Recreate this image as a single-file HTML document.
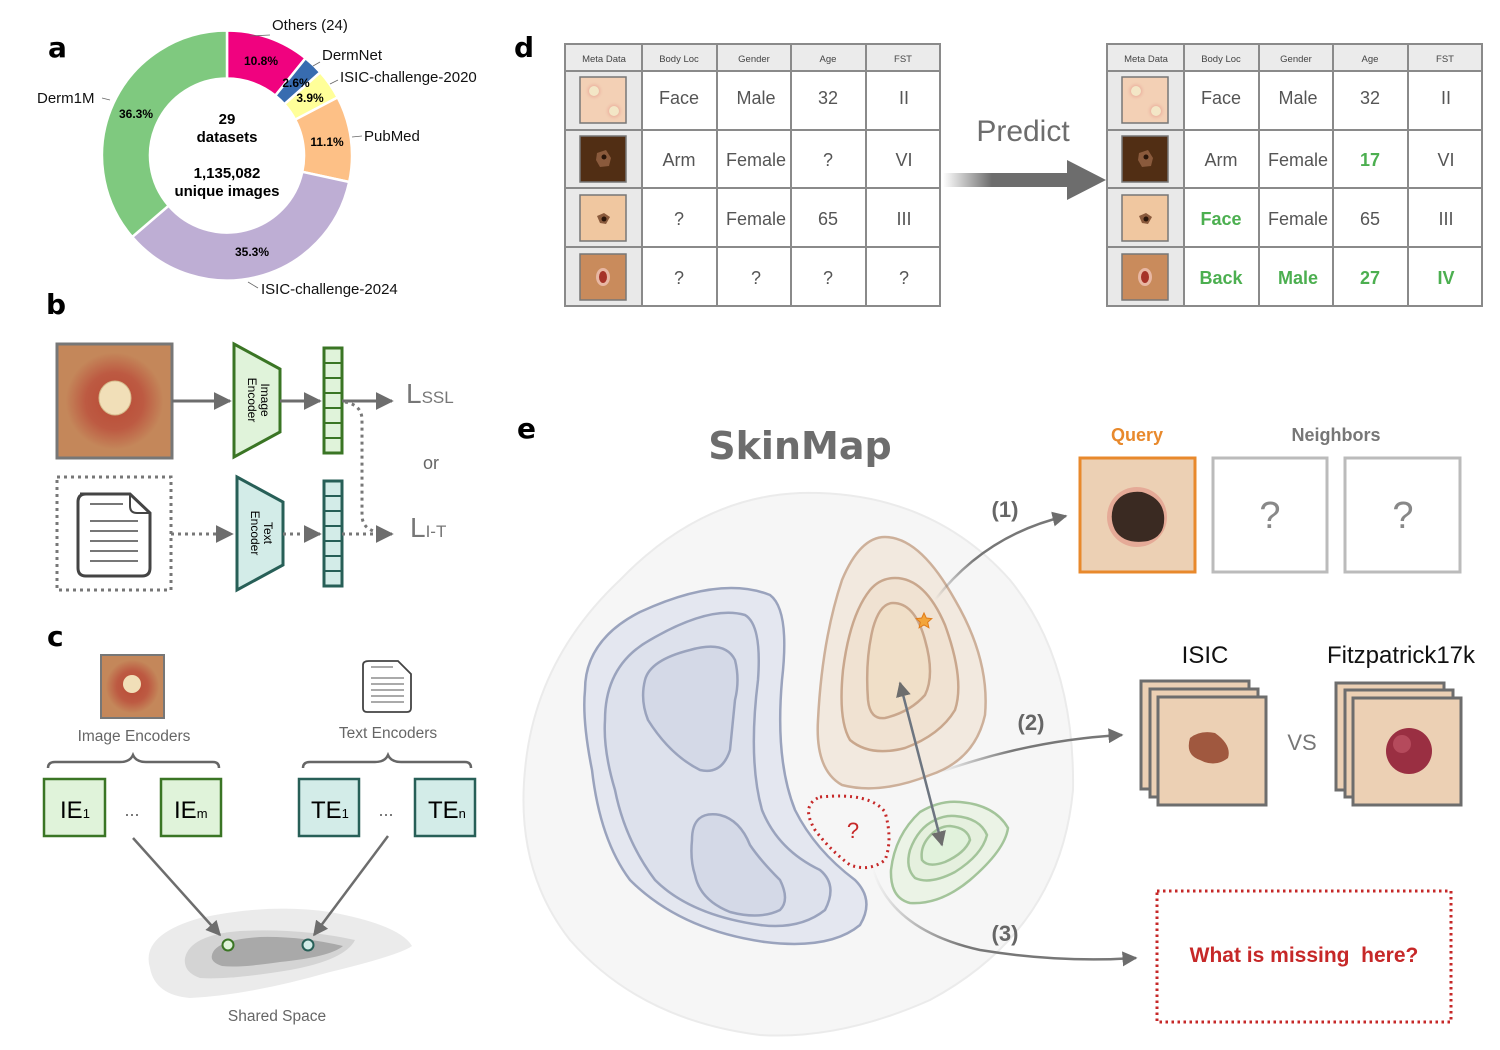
<!DOCTYPE html>
<html><head><meta charset="utf-8">
<style>
html,body{margin:0;padding:0;background:#fff;}
svg{display:block;}
text{font-family:"Liberation Sans",sans-serif;}
.dv{font-family:"DejaVu Sans","Liberation Sans",sans-serif;}
</style></head><body>
<svg width="1500" height="1050" viewBox="0 0 1500 1050" xmlns="http://www.w3.org/2000/svg">
<defs>
<marker id="ah" viewBox="0 0 10 10" refX="9" refY="5" markerWidth="6" markerHeight="6" orient="auto-start-reverse"><path d="M0,0L10,5L0,10z" fill="#6d6d6d"/></marker>
<radialGradient id="les1" cx="50%" cy="50%" r="50%"><stop offset="0" stop-color="#b84a35"/><stop offset="0.5" stop-color="#bd5a42"/><stop offset="0.85" stop-color="#c4875a"/><stop offset="1" stop-color="#c4875a"/></radialGradient>
<radialGradient id="pink" cx="50%" cy="50%" r="50%"><stop offset="0" stop-color="#d86a6a"/><stop offset="1" stop-color="#f3d0b5" stop-opacity="0"/></radialGradient>
<linearGradient id="pg" x1="0" x2="1"><stop offset="0" stop-color="#6d6d6d" stop-opacity="0"/><stop offset="0.3" stop-color="#6d6d6d"/><stop offset="1" stop-color="#6d6d6d"/></linearGradient>
<linearGradient id="fade1" x1="0" y1="1" x2="1" y2="0"><stop offset="0" stop-color="#777" stop-opacity="0"/><stop offset="0.4" stop-color="#777"/></linearGradient>
<linearGradient id="fade2" x1="0" x2="1"><stop offset="0" stop-color="#777" stop-opacity="0"/><stop offset="0.4" stop-color="#777"/></linearGradient>
<linearGradient id="fade3" x1="0" y1="0" x2="1" y2="0"><stop offset="0" stop-color="#777" stop-opacity="0"/><stop offset="0.35" stop-color="#777"/></linearGradient>
</defs>

<!-- ===== Panel a ===== -->
<text x="48" y="57" font-size="28" font-weight="bold" class="dv">a</text>
<g stroke="#fff" stroke-width="2.5">
<path d="M227,30.5 A125,125 0 0 1 305.5,58.2 L275.3,95.6 A77,77 0 0 0 227,78.5Z" fill="#f0027f"/>
<path d="M305.5,58.2 A125,125 0 0 1 320.3,72.3 L284.4,104.2 A77,77 0 0 0 275.3,95.6Z" fill="#386cb0"/>
<path d="M320.3,72.3 A125,125 0 0 1 337.7,97.4 L295.2,119.7 A77,77 0 0 0 284.4,104.2Z" fill="#ffff99"/>
<path d="M337.7,97.4 A125,125 0 0 1 349.2,182 L302.3,171.8 A77,77 0 0 0 295.2,119.7Z" fill="#fdc086"/>
<path d="M349.2,182 A125,125 0 0 1 132.2,237 L168.6,205.7 A77,77 0 0 0 302.3,171.8Z" fill="#beaed4"/>
<path d="M132.2,237 A125,125 0 0 1 227,30.5 L227,78.5 A77,77 0 0 0 168.6,205.7Z" fill="#7fc97f"/>
</g>
<g class="dv" font-size="12" font-weight="bold" text-anchor="middle">
<text x="261" y="65">10.8%</text><text x="296" y="87">2.6%</text><text x="310" y="102">3.9%</text>
<text x="327" y="146">11.1%</text><text x="252" y="256">35.3%</text><text x="136" y="118">36.3%</text>
</g>
<g class="dv" font-size="15" font-weight="bold" text-anchor="middle">
<text x="227" y="124">29</text><text x="227" y="142">datasets</text>
<text x="227" y="178">1,135,082</text><text x="227" y="196">unique images</text>
</g>
<g class="dv" font-size="15" fill="#111">
<text x="272" y="30">Others (24)</text><text x="322" y="60">DermNet</text>
<text x="340" y="82">ISIC-challenge-2020</text><text x="364" y="141">PubMed</text>
<text x="37" y="103">Derm1M</text><text x="261" y="294">ISIC-challenge-2024</text>
</g>
<g stroke="#666" stroke-width="0.8" fill="none">
<path d="M270,35 L250,36"/><path d="M320,62 L313,66"/><path d="M338,80 L330,84"/><path d="M362,136 L352,137"/><path d="M102,98 L110,100"/><path d="M258,288 L248,282"/>
</g>

<!-- ===== Panel b ===== -->
<text x="46" y="314" font-size="28" font-weight="bold" class="dv">b</text>
<rect x="57" y="344" width="115" height="114" fill="url(#les1)" stroke="#777" stroke-width="3"/>
<ellipse cx="115" cy="398" rx="16" ry="17" fill="#f1dfb8" stroke="#d6bb8c"/>
<path d="M172,401 H230" stroke="#6d6d6d" stroke-width="3" marker-end="url(#ah)"/>
<path d="M234,344 L280,369 L280,432 L234,457Z" fill="#e0f3da" stroke="#3a7524" stroke-width="3"/>
<text transform="translate(258,400) rotate(90)" font-size="12" text-anchor="middle"><tspan x="0" dy="-3">Image</tspan><tspan x="0" dy="13">Encoder</tspan></text>
<path d="M280,401 H320" stroke="#6d6d6d" stroke-width="3" marker-end="url(#ah)"/>
<rect x="324" y="348" width="18" height="105" fill="#e0f3da" stroke="#3a7524" stroke-width="3"/>
<g stroke="#3a7524" stroke-width="2"><path d="M324,363H342M324,378H342M324,393H342M324,408H342M324,423H342M324,438H342"/></g>
<path d="M342,401 H392" stroke="#6d6d6d" stroke-width="3" marker-end="url(#ah)"/>
<path d="M345,402 Q362,405 362,420 V515 Q362,532 385,533" stroke="#777" stroke-width="3" fill="none" stroke-dasharray="3,4"/>
<text x="406" y="403" font-size="28" fill="#777" font-family="Liberation Serif">L<tspan font-size="17">SSL</tspan></text>
<text x="431" y="469" font-size="18" fill="#666" text-anchor="middle">or</text>
<text x="410" y="537" font-size="28" fill="#777" font-family="Liberation Serif">L<tspan font-size="17">I-T</tspan></text>
<rect x="57" y="477" width="114" height="113" fill="none" stroke="#777" stroke-width="3" stroke-dasharray="3,4"/>
<path d="M80,494 H130 L150,513 V568 Q150,576 142,576 H86 Q78,576 78,568 V502 Q78,494 86,494Z" fill="#fff" stroke="#444" stroke-width="3"/>
<path d="M130,494 V506 Q130,513 137,513 H150" fill="none" stroke="#444" stroke-width="2"/>
<g stroke="#777" stroke-width="2"><path d="M90,504H123M90,521H138M90,531H138M90,541H138M90,551H138M90,561H138"/></g>
<path d="M171,534 H232" stroke="#777" stroke-width="3" stroke-dasharray="3,4" marker-end="url(#ah)"/>
<path d="M237,477 L283,502 L283,565 L237,590Z" fill="#d3ece8" stroke="#275f57" stroke-width="3"/>
<text transform="translate(261,533) rotate(90)" font-size="12" text-anchor="middle"><tspan x="0" dy="-3">Text</tspan><tspan x="0" dy="13">Encoder</tspan></text>
<path d="M283,534 H320" stroke="#777" stroke-width="3" stroke-dasharray="3,4" marker-end="url(#ah)"/>
<rect x="324" y="481" width="18" height="105" fill="#d3ece8" stroke="#275f57" stroke-width="3"/>
<g stroke="#275f57" stroke-width="2"><path d="M324,496H342M324,511H342M324,526H342M324,541H342M324,556H342M324,571H342"/></g>
<path d="M342,534 H392" stroke="#777" stroke-width="3" stroke-dasharray="3,4" marker-end="url(#ah)"/>

<!-- ===== Panel c ===== -->
<text x="47" y="646" font-size="28" font-weight="bold" class="dv">c</text>
<rect x="101" y="655" width="63" height="63" fill="url(#les1)" stroke="#777" stroke-width="2"/>
<ellipse cx="132" cy="684" rx="9" ry="9" fill="#f1dfb8"/>
<text x="134" y="741" font-size="15.5" fill="#666" text-anchor="middle">Image Encoders</text>
<path d="M48,768 Q48,762 55,762 H120 Q130,762 133,755 Q136,762 146,762 H213 Q219,762 219,768" fill="none" stroke="#666" stroke-width="2.5"/>
<rect x="44" y="779" width="61" height="57" fill="#e0f3da" stroke="#3a7524" stroke-width="2.5"/>
<rect x="161" y="779" width="60" height="57" fill="#e0f3da" stroke="#3a7524" stroke-width="2.5"/>
<text x="60" y="818" font-size="24">IE<tspan font-size="13">1</tspan></text>
<text x="174" y="818" font-size="24">IE<tspan font-size="13">m</tspan></text>
<text x="132" y="816" font-size="18" fill="#666" text-anchor="middle">...</text>
<path d="M369,661 H398 L411,674 V708 Q411,712 407,712 H367 Q363,712 363,708 V665 Q363,661 369,661Z" fill="#fff" stroke="#444" stroke-width="1.8"/>
<g stroke="#777" stroke-width="1.2"><path d="M371,667H393M371,678H404M371,684H404M371,690H404M371,696H404M371,702H404"/></g>
<text x="388" y="738" font-size="15.5" fill="#666" text-anchor="middle">Text Encoders</text>
<path d="M303,768 Q303,762 310,762 H375 Q385,762 388,755 Q391,762 401,762 H465 Q471,762 471,768" fill="none" stroke="#666" stroke-width="2.5"/>
<rect x="299" y="779" width="60" height="57" fill="#d3ece8" stroke="#275f57" stroke-width="2.5"/>
<rect x="415" y="779" width="60" height="57" fill="#d3ece8" stroke="#275f57" stroke-width="2.5"/>
<text x="311" y="818" font-size="24">TE<tspan font-size="13">1</tspan></text>
<text x="428" y="818" font-size="24">TE<tspan font-size="13">n</tspan></text>
<text x="386" y="816" font-size="18" fill="#666" text-anchor="middle">...</text>
<path d="M150,968 Q140,935 200,918 Q270,903 330,912 Q400,925 412,946 Q400,955 330,972 Q250,995 190,998 Q155,995 150,968Z" fill="#ebebeb"/>
<path d="M185,958 Q190,935 240,931 Q300,928 355,940 Q345,960 290,970 Q230,980 200,978 Q183,972 185,958Z" fill="#d4d4d4"/>
<path d="M212,955 Q215,940 260,937 Q300,936 343,946 Q330,957 280,962 Q240,968 222,966 Q210,962 212,955Z" fill="#a9a9a9"/>
<path d="M133,838 L220,935" stroke="#6d6d6d" stroke-width="2.5" marker-end="url(#ah)"/>
<path d="M388,836 L314,935" stroke="#6d6d6d" stroke-width="2.5" marker-end="url(#ah)"/>
<circle cx="228" cy="945" r="5.5" fill="#e0f3da" stroke="#3a7524" stroke-width="2"/>
<circle cx="308" cy="945" r="5.5" fill="#d3ece8" stroke="#275f57" stroke-width="2"/>
<text x="277" y="1021" font-size="15.5" fill="#666" text-anchor="middle">Shared Space</text>

<!-- ===== Panel d ===== -->
<text x="514" y="57" font-size="28" font-weight="bold" class="dv">d</text>
<g id="tbl">
<rect x="565" y="44" width="375" height="262" fill="#fff"/>
<rect x="565" y="44" width="375" height="27" fill="#ebebeb"/>
<rect x="565" y="71" width="77" height="235" fill="#e9e9e9"/>
<g stroke="#8a8a8a" stroke-width="2" fill="none">
<rect x="565" y="44" width="375" height="262"/>
<path d="M642,44V306M717,44V306M791,44V306M866,44V306M565,71H940M565,130H940M565,188H940M565,247H940"/>
</g>
<g font-size="9.5" fill="#444" text-anchor="middle">
<text x="604" y="62">Meta Data</text><text x="679" y="62">Body Loc</text><text x="754" y="62">Gender</text><text x="828" y="62">Age</text><text x="903" y="62">FST</text>
</g>
<rect x="580" y="77" width="46" height="46" fill="#f3d0b5" stroke="#777" stroke-width="1.5"/>
<circle cx="594" cy="91" r="10" fill="url(#pink)"/><circle cx="594" cy="91" r="5" fill="#f3e6c6"/>
<circle cx="614" cy="111" r="10" fill="url(#pink)"/><circle cx="614" cy="111" r="5" fill="#f3e6c6"/>
<rect x="580" y="136" width="46" height="46" fill="#512e14" stroke="#777" stroke-width="1.5"/>
<path d="M597,153 L606,150 L611,158 L609,166 L600,167 L596,160Z" fill="#8a5a3c"/><circle cx="604" cy="157" r="2.5" fill="#2a1509"/>
<rect x="580" y="195" width="46" height="46" fill="#f0c7a0" stroke="#777" stroke-width="1.5"/>
<path d="M597,216 L604,213 L610,217 L606,224 L600,223Z" fill="#8a5a3c"/><circle cx="604" cy="219" r="2.5" fill="#2a1509"/>
<rect x="580" y="254" width="46" height="46" fill="#c98b5c" stroke="#777" stroke-width="1.5"/>
<ellipse cx="603" cy="277" rx="7" ry="9" fill="#e8b7a3"/><ellipse cx="603" cy="277" rx="4" ry="6" fill="#a63328"/>
</g>
<g font-size="18" fill="#555" text-anchor="middle">
<text x="679" y="104">Face</text><text x="756" y="104">Male</text><text x="828" y="104">32</text><text x="904" y="104">II</text>
<text x="679" y="166">Arm</text><text x="756" y="166">Female</text><text x="828" y="166">?</text><text x="904" y="166">VI</text>
<text x="679" y="225">?</text><text x="756" y="225">Female</text><text x="828" y="225">65</text><text x="904" y="225">III</text>
<text x="679" y="284">?</text><text x="756" y="284">?</text><text x="828" y="284">?</text><text x="904" y="284">?</text>
</g>
<use href="#tbl" x="542"/>
<g font-size="18" fill="#555" text-anchor="middle">
<text x="1221" y="104">Face</text><text x="1298" y="104">Male</text><text x="1370" y="104">32</text><text x="1446" y="104">II</text>
<text x="1221" y="166">Arm</text><text x="1298" y="166">Female</text><text x="1446" y="166">VI</text>
<text x="1298" y="225">Female</text><text x="1370" y="225">65</text><text x="1446" y="225">III</text>
</g>
<g font-size="18" fill="#4caf50" font-weight="bold" text-anchor="middle">
<text x="1370" y="166">17</text><text x="1221" y="225">Face</text>
<text x="1221" y="284">Back</text><text x="1298" y="284">Male</text><text x="1370" y="284">27</text><text x="1446" y="284">IV</text>
</g>
<text x="1023" y="141" font-size="30" fill="#6d6d6d" text-anchor="middle">Predict</text>
<path d="M943,173 H1067 V160 L1106,180 L1067,200 V187 H943Z" fill="url(#pg)"/>

<!-- ===== Panel e ===== -->
<text x="517" y="438" font-size="28" font-weight="bold" class="dv">e</text>
<text x="800" y="459" font-size="38" font-weight="bold" fill="#6d6d6d" text-anchor="middle" class="dv">SkinMap</text>
<path d="M800,493 Q930,490 1010,580 Q1075,660 1073,790 Q1060,930 930,1000 Q840,1040 760,1035 Q640,1020 570,940 Q515,870 525,770 Q535,660 620,580 Q700,497 800,493Z" fill="#f6f6f6" stroke="#ebebeb" stroke-width="2"/>
<path d="M585,690 Q585,640 640,612 Q720,575 770,595 Q790,610 782,680 Q775,760 795,810 Q815,850 855,880 Q875,900 860,925 Q830,950 765,942 Q680,930 630,880 Q600,840 592,770 Q582,720 585,690Z" fill="#e4e7f0" stroke="#9aa3bd" stroke-width="2.5"/>
<path d="M605,720 Q605,665 650,640 Q710,605 745,615 Q762,625 758,680 Q748,760 762,810 Q778,850 820,870 Q838,885 825,910 Q800,930 760,925 Q690,915 655,880 Q625,840 615,790 Q603,750 605,720Z" fill="#dde1ec" stroke="#9aa3bd" stroke-width="2.5"/>
<path d="M645,680 Q650,660 690,650 Q725,640 735,660 Q740,680 735,700 Q732,730 730,750 Q722,775 700,770 Q670,755 648,720 Q640,700 645,680Z" fill="#d4d9e7" stroke="#9aa3bd" stroke-width="2.5"/>
<path d="M692,840 Q692,810 720,815 Q740,820 750,845 Q760,860 780,880 Q790,900 780,910 Q760,920 730,912 Q700,900 695,875 Q690,860 692,840Z" fill="#d4d9e7" stroke="#9aa3bd" stroke-width="2.5"/>
<path d="M885,537 Q920,537 955,600 Q990,660 985,715 Q975,760 930,775 Q880,795 842,785 Q815,770 818,720 Q822,640 842,580 Q860,537 885,537Z" fill="#f2e9df" stroke="#cdb09a" stroke-width="2.5"/>
<path d="M895,578 Q925,578 945,625 Q965,680 955,710 Q940,735 905,748 Q870,757 850,740 Q838,720 843,670 Q850,615 870,590 Q880,578 895,578Z" fill="#f0e2d2" stroke="#c9a78d" stroke-width="2.5"/>
<path d="M893,603 Q915,603 925,640 Q935,675 925,695 Q910,712 885,718 Q870,720 868,700 Q865,660 873,628 Q880,603 893,603Z" fill="#f0dfc8" stroke="#c9a78d" stroke-width="2.5"/>
<path d="M924,613 l2.3,5 5.5,0.6 -4.1,3.7 1.2,5.4 -4.9,-2.8 -4.9,2.8 1.2,-5.4 -4.1,-3.7 5.5,-0.6z" fill="#f3a53a" stroke="#e07b1a" stroke-width="1"/>
<path d="M960,802 Q995,805 1008,828 Q1005,850 970,880 Q940,905 910,903 Q890,898 891,870 Q895,835 920,812 Q940,800 960,802Z" fill="#ebf3e6" stroke="#a3c49a" stroke-width="2.5"/>
<path d="M955,816 Q980,818 987,835 Q982,855 955,872 Q930,885 915,878 Q905,868 910,850 Q918,828 935,820 Q945,815 955,816Z" fill="#e5f0de" stroke="#a3c49a" stroke-width="2.5"/>
<path d="M950,826 Q968,828 970,840 Q965,853 945,862 Q928,868 922,860 Q920,848 928,838 Q938,826 950,826Z" fill="#e1f2dc" stroke="#a3c49a" stroke-width="2.5"/>
<path d="M820,797 Q870,792 885,812 Q893,840 885,860 Q870,872 850,865 Q830,850 815,830 Q800,805 820,797Z" fill="none" stroke="#c62828" stroke-width="3" stroke-dasharray="2,4"/>
<text x="853" y="838" font-size="22" fill="#c62828" text-anchor="middle">?</text>
<path d="M900,683 L942,845" stroke="#6d7580" stroke-width="2.5" marker-start="url(#ah)" marker-end="url(#ah)"/>
<path d="M935,600 Q985,535 1066,516" stroke="url(#fade1)" stroke-width="2.5" fill="none" marker-end="url(#ah)"/>
<path d="M940,772 Q1030,740 1122,735" stroke="url(#fade2)" stroke-width="2.5" fill="none" marker-end="url(#ah)"/>
<path d="M872,866 Q890,930 980,950 Q1060,963 1136,958" stroke="url(#fade3)" stroke-width="2.5" fill="none" marker-end="url(#ah)"/>
<g font-size="22" font-weight="bold" fill="#666" text-anchor="middle">
<text x="1005" y="517">(1)</text><text x="1031" y="730">(2)</text><text x="1005" y="941">(3)</text>
</g>
<text x="1137" y="441" font-size="18" font-weight="bold" fill="#e8892c" text-anchor="middle">Query</text>
<text x="1336" y="441" font-size="18" font-weight="bold" fill="#777" text-anchor="middle">Neighbors</text>
<rect x="1080" y="458" width="115" height="114" fill="#ecd0b4" stroke="#e8892c" stroke-width="3"/>
<circle cx="1137" cy="517" r="30" fill="#e39a8a" opacity="0.7"/>
<path d="M1114,505 Q1122,490 1142,492 Q1162,498 1164,515 Q1166,536 1148,541 Q1124,545 1115,530 Q1109,518 1114,505Z" fill="#3a2a22"/>
<rect x="1213" y="458" width="114" height="114" fill="#fff" stroke="#bbb" stroke-width="3"/>
<rect x="1345" y="458" width="115" height="114" fill="#fff" stroke="#bbb" stroke-width="3"/>
<text x="1270" y="528" font-size="38" fill="#888" text-anchor="middle">?</text>
<text x="1403" y="528" font-size="38" fill="#888" text-anchor="middle">?</text>
<text x="1205" y="663" font-size="24" fill="#111" text-anchor="middle">ISIC</text>
<text x="1401" y="663" font-size="24" fill="#111" text-anchor="middle">Fitzpatrick17k</text>
<g fill="#ecd0b4" stroke="#6d6d6d" stroke-width="3">
<rect x="1141" y="681" width="108" height="108"/><rect x="1150" y="689" width="108" height="108"/><rect x="1158" y="697" width="108" height="108"/>
<rect x="1336" y="683" width="108" height="107"/><rect x="1345" y="690" width="108" height="107"/><rect x="1353" y="698" width="108" height="107"/>
</g>
<path d="M1190,738 Q1200,730 1215,733 Q1232,745 1228,758 Q1215,768 1200,760 Q1185,755 1190,738Z" fill="#a0583f"/>
<circle cx="1409" cy="751" r="23" fill="#9a2f42"/><circle cx="1402" cy="744" r="9" fill="#b54a5c"/>
<text x="1302" y="750" font-size="22" fill="#777" text-anchor="middle">VS</text>
<rect x="1157" y="891" width="294" height="131" fill="none" stroke="#c62828" stroke-width="3" stroke-dasharray="2.5,3.5"/>
<text x="1304" y="962" font-size="21" font-weight="bold" fill="#c62828" text-anchor="middle" xml:space="preserve">What is missing  here?</text>
</svg>
</body></html>
